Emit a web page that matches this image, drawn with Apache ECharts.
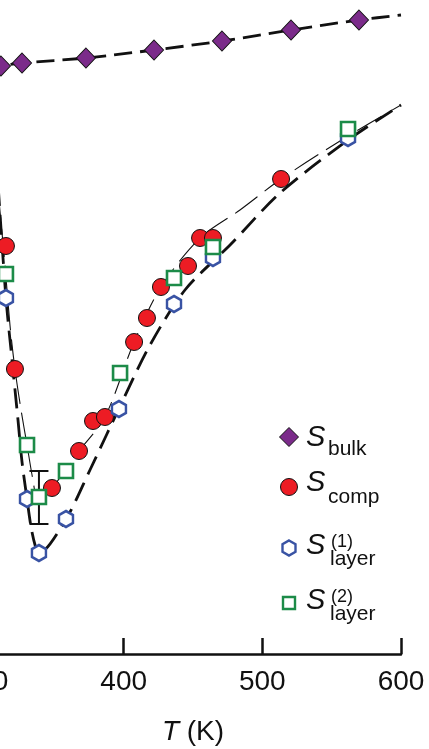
<!DOCTYPE html>
<html>
<head>
<meta charset="utf-8">
<script src="https://cdn.jsdelivr.net/npm/echarts@6/dist/echarts.min.js"></script>
<style>
html,body{margin:0;padding:0;background:#fff;}
#chart{width:429px;height:749px;}
</style>
</head>
<body>
<div id="chart"></div>
<script>
// x axis ticks (K)
const xTicks = [300, 400, 500, 600];

// S_bulk (diamonds) and its dashed fit
const bulkT = [311.5, 326.7, 372.8, 421.9, 470.9, 520.7, 569.7];
const bulkS = [5.88, 5.91, 5.96, 6.04, 6.13, 6.24, 6.34];
const bulkFitT = [300, 311.5, 326.7, 372.8, 421.9, 470.9, 520.7, 569.7, 600];
const bulkFitS = [5.85, 5.88, 5.91, 5.96, 6.04, 6.13, 6.24, 6.34, 6.39];

// S_comp (red circles)
const compT = [315.1, 321.6, 348.3, 367.8, 377.9, 386.5, 407.5, 416.8, 426.9, 446.4, 455.1, 464.4, 513.5];
const compS = [4.08, 2.85, 1.66, 2.03, 2.33, 2.37, 3.12, 3.36, 3.67, 3.88, 4.16, 4.16, 4.75];

// S_layer(1) (blue hexagons)
const layer1T = [315.1, 330.3, 338.9, 358.4, 396.6, 436.3, 464.4, 561.8];
const layer1S = [3.56, 1.55, 1.01, 1.35, 2.45, 3.50, 3.96, 5.16];

// S_layer(2) (green squares)
const layer2T = [315.1, 330.3, 338.9, 358.4, 397.4, 436.3, 464.4, 561.8];
const layer2S = [3.80, 2.09, 1.57, 1.83, 2.81, 3.76, 4.07, 5.25];

// error bar
const errT = [338.9];
const errLo = [1.30];
const errHi = [1.83];

// thin dashed curve (comp)
const compFitT = [309.5, 314.4, 318.0, 321.6, 326.0, 330.3, 334.6, 338.2, 348.3, 367.8, 386.5, 407.5, 426.9, 455.1, 483.9, 513.5, 561.8, 600];
const compFitS = [4.62, 3.89, 3.29, 2.85, 2.44, 2.09, 1.74, 1.54, 1.66, 2.03, 2.37, 3.12, 3.67, 4.16, 4.44, 4.75, 5.18, 5.49];

// thick dashed curve (layer)
const layerFitT = [309.5, 315.1, 319.5, 323.8, 326.7, 330.3, 333.2, 336.1, 338.9, 358.4, 375.7, 399.5, 419.0, 444.2, 476.7, 512.8, 561.8, 600];
const layerFitS = [4.68, 3.56, 2.94, 2.34, 1.92, 1.55, 1.27, 1.09, 1.01, 1.35, 1.84, 2.54, 3.09, 3.64, 4.09, 4.61, 5.14, 5.49];

const zip = (a, b) => a.map((v, i) => [v, b[i]]);
const FONT = '"Liberation Sans", Arial, Helvetica, sans-serif';
const HEX = 'path://M0,-1 L0.866,-0.5 L0.866,0.5 L0,1 L-0.866,0.5 L-0.866,-0.5 Z';

const chart = echarts.init(document.getElementById('chart'), null, {renderer: 'canvas'});
chart.setOption({
  animation: false,
  backgroundColor: '#fff',
  grid: {left: -15, right: 28, top: 0, bottom: 95, containLabel: false, outerBoundsMode: 'none'},
  xAxis: {
    type: 'value', min: xTicks[0], max: xTicks[xTicks.length - 1], interval: 100,
    name: '{i|T} (K)', nameLocation: 'middle', nameGap: 64,
    nameTextStyle: {fontFamily: FONT, fontSize: 28, color: '#111', rich: {i: {fontStyle: 'italic', fontFamily: FONT, fontSize: 28, color: '#111'}}},
    axisLine: {show: true, onZero: false, lineStyle: {color: '#111', width: 2.5}},
    axisTick: {show: true, inside: true, length: 16, lineStyle: {color: '#111', width: 2.5}},
    axisLabel: {show: true, margin: 14, fontFamily: FONT, fontSize: 28, color: '#111', showMinLabel: true, showMaxLabel: true, hideOverlap: false},
    splitLine: {show: false}
  },
  yAxis: {
    type: 'value', min: 0, max: 6.54, show: false, splitLine: {show: false}
  },
  series: [
    {name: 'bulkFit', type: 'line', data: zip(bulkFitT, bulkFitS), symbol: 'none', smooth: 0.3,
     lineStyle: {color: '#111', width: 2.8, type: [18, 8]}, z: 2},
    {name: 'layerFit', type: 'line', data: zip(layerFitT, layerFitS), symbol: 'none', smooth: 0.3,
     lineStyle: {color: '#111', width: 2.8, type: [20, 9]}, z: 2},
    {name: 'compFit', type: 'line', data: zip(compFitT, compFitS), symbol: 'none', smooth: 0.3,
     lineStyle: {color: '#111', width: 1.1, type: [28, 9]}, z: 2},
    {name: 'err', type: 'custom', data: errT.map((t, i) => [t, errLo[i], errHi[i]]), z: 3,
     renderItem: function (params, api) {
       const lo = api.coord([api.value(0), api.value(1)]);
       const hi = api.coord([api.value(0), api.value(2)]);
       const w = 9.5;
       const st = {stroke: '#111', lineWidth: 2};
       return {type: 'group', children: [
         {type: 'line', shape: {x1: lo[0], y1: lo[1], x2: hi[0], y2: hi[1]}, style: st},
         {type: 'line', shape: {x1: lo[0] - w, y1: lo[1], x2: lo[0] + w, y2: lo[1]}, style: st},
         {type: 'line', shape: {x1: hi[0] - w, y1: hi[1], x2: hi[0] + w, y2: hi[1]}, style: st}
       ]};
     }},
    {name: 'S_bulk', type: 'scatter', data: zip(bulkT, bulkS), symbol: 'diamond', symbolSize: [19, 20],
     itemStyle: {color: '#7B2B8A', borderColor: '#111', borderWidth: 1, opacity: 1}, z: 5},
    {name: 'S_comp', type: 'scatter', data: zip(compT, compS), symbol: 'circle', symbolSize: 17,
     itemStyle: {color: '#ED1C24', borderColor: '#111', borderWidth: 1, opacity: 1}, z: 5},
    {name: 'S_layer1', type: 'scatter', data: zip(layer1T, layer1S), symbol: HEX, symbolSize: [14, 16],
     itemStyle: {color: '#fff', borderColor: '#3953A4', borderWidth: 2.6, opacity: 1}, z: 6},
    {name: 'S_layer2', type: 'scatter', data: zip(layer2T, layer2S), symbol: 'rect', symbolSize: 14,
     itemStyle: {color: '#fff', borderColor: '#1C8B48', borderWidth: 2.6, opacity: 1}, z: 7}
  ],
  graphic: [
    {type: 'polygon', z: 100, shape: {points: [[289, 427.5], [298.5, 437], [289, 446.5], [279.5, 437]]},
     style: {fill: '#7B2B8A', stroke: '#111', lineWidth: 1}},
    {type: 'circle', z: 100, shape: {cx: 289, cy: 487, r: 8.5}, style: {fill: '#ED1C24', stroke: '#111', lineWidth: 1}},
    {type: 'polygon', z: 100, shape: {points: [[289, 540.5], [295.5, 544.25], [295.5, 551.75], [289, 555.5], [282.5, 551.75], [282.5, 544.25]]},
     style: {fill: '#fff', stroke: '#3953A4', lineWidth: 2.4}},
    {type: 'rect', z: 100, shape: {x: 283, y: 597, width: 12, height: 12}, style: {fill: '#fff', stroke: '#1C8B48', lineWidth: 2.4}},

    {type: 'text', z: 100, style: {text: 'S', x: 306, y: 438, font: 'italic 29px ' + FONT, fill: '#111', textAlign: 'left', textVerticalAlign: 'middle', verticalAlign: 'middle'}},
    {type: 'text', z: 100, style: {text: 'bulk', x: 328, y: 449, font: '21px ' + FONT, fill: '#111', textAlign: 'left', textVerticalAlign: 'middle', verticalAlign: 'middle'}},
    {type: 'text', z: 100, style: {text: 'S', x: 306, y: 483, font: 'italic 29px ' + FONT, fill: '#111', textAlign: 'left', textVerticalAlign: 'middle', verticalAlign: 'middle'}},
    {type: 'text', z: 100, style: {text: 'comp', x: 328, y: 497, font: '21px ' + FONT, fill: '#111', textAlign: 'left', textVerticalAlign: 'middle', verticalAlign: 'middle'}},
    {type: 'text', z: 100, style: {text: 'S', x: 306, y: 546, font: 'italic 29px ' + FONT, fill: '#111', textAlign: 'left', textVerticalAlign: 'middle', verticalAlign: 'middle'}},
    {type: 'text', z: 100, style: {text: '(1)', x: 331, y: 542, font: '18px ' + FONT, fill: '#111', textAlign: 'left', textVerticalAlign: 'middle', verticalAlign: 'middle'}},
    {type: 'text', z: 100, style: {text: 'layer', x: 330, y: 559, font: '21px ' + FONT, fill: '#111', textAlign: 'left', textVerticalAlign: 'middle', verticalAlign: 'middle'}},
    {type: 'text', z: 100, style: {text: 'S', x: 306, y: 601, font: 'italic 29px ' + FONT, fill: '#111', textAlign: 'left', textVerticalAlign: 'middle', verticalAlign: 'middle'}},
    {type: 'text', z: 100, style: {text: '(2)', x: 331, y: 597, font: '18px ' + FONT, fill: '#111', textAlign: 'left', textVerticalAlign: 'middle', verticalAlign: 'middle'}},
    {type: 'text', z: 100, style: {text: 'layer', x: 330, y: 614, font: '21px ' + FONT, fill: '#111', textAlign: 'left', textVerticalAlign: 'middle', verticalAlign: 'middle'}}
  ]
});
</script>
</body>
</html>
